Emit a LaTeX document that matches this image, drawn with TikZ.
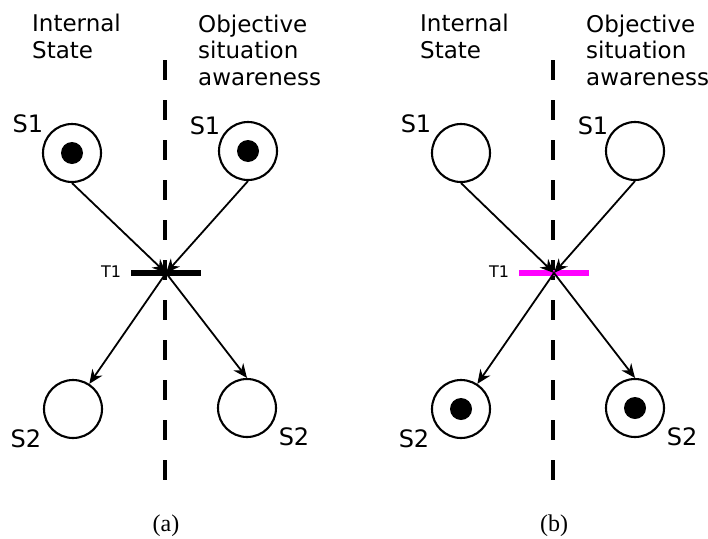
\documentclass[tikz,border=0pt]{standalone}
\usepackage{fontspec}
\setmainfont{DejaVu Sans}
\newfontfamily\capfont{Liberation Serif}
\usetikzlibrary{arrows.meta}
\tikzset{
  place/.style={circle, draw, line width=2.1pt, minimum size=58pt, inner sep=0pt},
  token/.style={circle, fill=black, minimum size=22pt, inner sep=0pt},
  trans/.style={rectangle, fill=#1, minimum width=70pt, minimum height=5.5pt, inner sep=0pt},
  arc/.style={line width=1.8pt, -{Stealth[length=14pt,width=12pt,inset=4.5pt]}},
  divider/.style={line width=4pt, dash pattern=on 20pt off 20pt},
  head/.style={font=\fontsize{23}{26.5}\selectfont, align=left, anchor=base west, inner sep=0pt},
  plabel/.style={font=\fontsize{24}{26}\selectfont, inner sep=0pt},
  tlabel/.style={font=\fontsize{16}{18}\selectfont, inner sep=0pt},
  caption/.style={font=\capfont\fontsize{24}{26}\selectfont, anchor=base, inner sep=0pt}
}
\definecolor{tmagenta}{RGB}{255,0,255}
\begin{document}
\begin{tikzpicture}[x=1pt, y=-1pt]
\useasboundingbox (0,0) rectangle (708,538);
% ---------- panel (a) ----------
\coordinate (atop) at (165,60);
\coordinate (abot) at (165,487);
\draw[divider] (atop) -- (abot);
\node[head] (ahi) at (32,58) {Internal\\State};
\node[head] (aho) at (198,85) {Objective\\situation\\awareness};
\node[place] (as1l) at (72,153) {};
\node[place] (as1r) at (248,151) {};
\node[place] (as2l) at (73,409) {};
\node[place] (as2r) at (247,408) {};
\node[token] (ak1) at (as1l) {};
\node[token] (ak2) at (as1r) {};
\node[trans=black] (at1) at (166,273) {};
\node[tlabel] (at1l) at (111,272) {T1};
\node[plabel] (al1) at (28,124) {S1};
\node[plabel] (al2) at (205,126) {S1};
\node[plabel] (al3) at (26,439) {S2};
\node[plabel] (al4) at (294,437) {S2};
\draw[arc] (as1l.south) -- (at1.center);
\draw[arc] (as1r.south) -- (at1.center);
\draw[arc] (at1.center) -- (as2l.57);
\draw[arc] (at1.center) -- (as2r.north);
\node[caption] (acap) at (166,531) {(a)};
% ---------- panel (b) ----------
\coordinate (btop) at (553,60);
\coordinate (bbot) at (553,487);
\draw[divider] (btop) -- (bbot);
\node[head] (bhi) at (420,58) {Internal\\State};
\node[head] (bho) at (586,85) {Objective\\situation\\awareness};
\node[place] (bs1l) at (461,153) {};
\node[place] (bs1r) at (635,151) {};
\node[place] (bs2l) at (461,409) {};
\node[place] (bs2r) at (635,408) {};
\node[token] (bk1) at (bs2l) {};
\node[token] (bk2) at (bs2r) {};
\node[trans=tmagenta] (bt1) at (554,273) {};
\node[tlabel] (bt1l) at (499,272) {T1};
\node[plabel] (bl1) at (416,124) {S1};
\node[plabel] (bl2) at (593,126) {S1};
\node[plabel] (bl3) at (414,439) {S2};
\node[plabel] (bl4) at (682,437) {S2};
\draw[arc] (bs1l.south) -- (bt1.center);
\draw[arc] (bs1r.south) -- (bt1.center);
\draw[arc] (bt1.center) -- (bs2l.57);
\draw[arc] (bt1.center) -- (bs2r.north);
\node[caption] (bcap) at (554,531) {(b)};
\end{tikzpicture}
\end{document}
